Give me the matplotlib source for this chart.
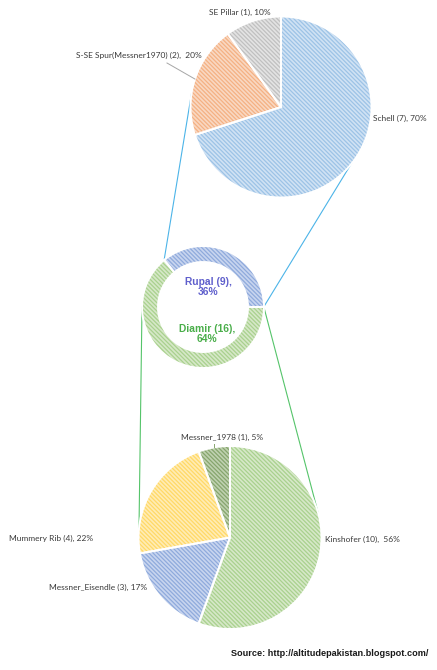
import numpy as np
import matplotlib
matplotlib.use("Agg")
import matplotlib.pyplot as plt

# --- data ---
top_names = ["Schell", "S-SE Spur(Messner1970)", "SE Pillar"]
top_counts = [7, 2, 1]
top_labels = ["Schell (7), 70%", "S-SE Spur(Messner1970) (2),  20%", "SE Pillar (1), 10%"]

side_names = ["Rupal", "Diamir"]
side_counts = [9, 16]
side_labels = ["Rupal (9),\n36%", "Diamir (16),\n64%"]

bot_names = ["Kinshofer", "Messner_Eisendle", "Mummery Rib", "Messner_1978"]
bot_counts = [10, 3, 4, 1]
bot_labels = ["Kinshofer (10),  56%", "Messner_Eisendle (3), 17%",
              "Mummery Rib (4), 22%", "Messner_1978 (1), 5%"]

source = "Source: http://altitudepakistan.blogspot.com/"

# colours: (light face, darker hatch)
top_cols = [("#d0e2f4", "#9dc3e6"), ("#f9d8c2", "#f4b183"), ("#e3e3e3", "#c0c0c0")]
side_cols = [("#c8d5ef", "#8faadc"), ("#d6e8c8", "#a9d18e")]
bot_cols = [("#d6e8c8", "#a9d18e"), ("#c8d5ef", "#8faadc"),
            ("#ffecb5", "#ffd966"), ("#bfd1b0", "#86a56d")]

W, H = 437, 670
plt.rcParams['font.family'] = ['Lato', 'DejaVu Sans']
plt.rcParams['hatch.linewidth'] = 0.9

fig = plt.figure(figsize=(W / 100, H / 100), dpi=100)
ax = fig.add_axes([0, 0, 1, 1])
ax.set_xlim(0, W)
ax.set_ylim(0, H)
ax.set_aspect('equal')
ax.axis('off')


def py(y):
    return H - y


def hatched_pie(vals, cols, center, radius, start, ccw, width=None):
    wp = dict(linewidth=0)
    if width is not None:
        wp['width'] = width
    ax.pie(vals, center=center, radius=radius, startangle=start,
           counterclock=ccw, colors=[c[0] for c in cols],
           wedgeprops=wp, frame=True)
    hat, _ = ax.pie(vals, center=center, radius=radius, startangle=start,
                    counterclock=ccw, colors=['none'] * len(vals),
                    wedgeprops=wp, frame=True)
    for w, c in zip(hat, cols):
        w.set_facecolor('none')
        w.set_edgecolor(c[1])
        w.set_hatch('\\' * 8)
        w.set_linewidth(0)
    edge = dict(linewidth=1.4, edgecolor='white', facecolor='none')
    if width is not None:
        edge['width'] = width
    ax.pie(vals, center=center, radius=radius, startangle=start,
           counterclock=ccw, wedgeprops=edge, frame=True)


top_c, top_r = (281, py(107)), 90.5
side_c, side_r = (203, py(307)), 61
bot_c, bot_r = (230, py(537.5)), 91.5


def pt(c, r, ang):
    a = np.radians(ang)
    return c[0] + r * np.cos(a), c[1] + r * np.sin(a)


# connector lines
rupal_ang = 360 * side_counts[0] / sum(side_counts)
for (a1, a2) in [(rupal_ang, 171), (0.5, -23)]:
    p1 = pt(side_c, side_r, a1)
    p2 = pt(top_c, top_r, a2)
    ax.plot([p1[0], p2[0]], [p1[1], p2[1]], color='#4cb4e8', lw=0.8, zorder=0)
for (a1, a2) in [(180, 174), (-0.5, 15.4)]:
    p1 = pt(side_c, side_r, a1)
    p2 = pt(bot_c, bot_r, a2)
    ax.plot([p1[0], p2[0]], [p1[1], p2[1]], color='#55c46a', lw=0.8, zorder=0)

hatched_pie(top_counts, top_cols, top_c, top_r, 90, False)
hatched_pie(side_counts, side_cols, side_c, side_r, 0, True, width=16)
hatched_pie(bot_counts, bot_cols, bot_c, bot_r, 90, False)

ax.set_xlim(0, W)
ax.set_ylim(0, H)
ax.axis('off')

tc = '#3a3a3a'
fs = 6.0
ax.text(373, py(118), top_labels[0], fontsize=fs, color=tc, ha='left', va='center')
ax.text(202, py(55), top_labels[1], fontsize=fs, color=tc, ha='right', va='center')
ax.text(209, py(12), top_labels[2], fontsize=fs, color=tc, ha='left', va='center')

# leader for S-SE Spur
lp = pt(top_c, top_r, 162)
ax.plot([167, lp[0]], [py(63), lp[1]], color='#a6a6a6', lw=0.7)

ax.text(208, py(287), side_labels[0], fontsize=7.4, color='#5f5fcc', fontweight='bold',
        ha='center', va='center', family='Liberation Sans', linespacing=1.05)
ax.text(207, py(334), side_labels[1], fontsize=7.4, color='#4aae4a', fontweight='bold',
        ha='center', va='center', family='Liberation Sans', linespacing=1.05)

ax.text(325, py(539), bot_labels[0], fontsize=fs, color=tc, ha='left', va='center')
ax.text(147, py(587), bot_labels[1], fontsize=fs, color=tc, ha='right', va='center')
ax.text(93, py(538), bot_labels[2], fontsize=fs, color=tc, ha='right', va='center')
ax.text(222, py(437), bot_labels[3], fontsize=fs, color=tc, ha='center', va='center')

mp = pt(bot_c, bot_r, 100)
ax.plot([mp[0], mp[0]], [mp[1], py(444)], color='#86a56d', lw=0.7)

ax.text(428, py(654), source, fontsize=6.6, fontweight='bold', color='#1a1a1a',
        ha='right', va='center', family='Liberation Sans')

fig.savefig("out.png", dpi=100)
